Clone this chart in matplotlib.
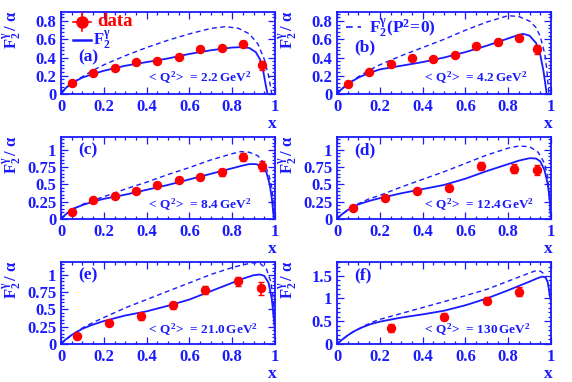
import matplotlib
matplotlib.use("Agg")
import matplotlib.pyplot as plt
from matplotlib.ticker import MultipleLocator

plt.rcParams['font.family'] = ['Liberation Serif', 'DejaVu Serif']
plt.rcParams['font.weight'] = 'bold'
plt.rcParams['mathtext.fontset'] = 'custom'
plt.rcParams['mathtext.rm'] = 'Liberation Serif:bold'
plt.rcParams['mathtext.it'] = 'Liberation Serif:bold'
plt.rcParams['mathtext.bf'] = 'Liberation Serif:bold'

BLUE = '#1a1aff'
RED = '#ff0000'

# ---------------- data ----------------
panel_labels = ['(a)', '(b)', '(c)', '(d)', '(e)', '(f)']
q2_labels = ['2.2', '4.2', '8.4', '12.4', '21.0', '130']
ylims = [0.9, 0.9, 1.18, 1.18, 1.18, 1.8]
ymajor = [0.2, 0.2, 0.25, 0.25, 0.25, 0.5]

# measured points
a_x = [0.05, 0.15, 0.25, 0.35, 0.45, 0.55, 0.65, 0.75, 0.85, 0.94]
a_y = [0.12, 0.23, 0.29, 0.355, 0.367, 0.41, 0.495, 0.506, 0.55, 0.315]
a_e = [0.02, 0.02, 0.02, 0.02, 0.02, 0.02, 0.02, 0.025, 0.035, 0.05]

b_x = [0.05, 0.15, 0.25, 0.35, 0.45, 0.55, 0.65, 0.75, 0.85, 0.935]
b_y = [0.114, 0.246, 0.33, 0.39, 0.385, 0.433, 0.53, 0.572, 0.617, 0.49]
b_e = [0.02, 0.02, 0.02, 0.02, 0.02, 0.02, 0.025, 0.03, 0.035, 0.05]

c_x = [0.05, 0.15, 0.25, 0.35, 0.45, 0.55, 0.65, 0.75, 0.85, 0.94]
c_y = [0.095, 0.27, 0.33, 0.41, 0.49, 0.56, 0.60, 0.67, 0.89, 0.76]
c_e = [0.02, 0.02, 0.02, 0.02, 0.02, 0.025, 0.035, 0.045, 0.06, 0.07]

d_x = [0.075, 0.225, 0.375, 0.525, 0.675, 0.825, 0.935]
d_y = [0.156, 0.30, 0.40, 0.44, 0.76, 0.725, 0.71]
d_e = [0.02, 0.02, 0.03, 0.04, 0.06, 0.06, 0.07]

e_x = [0.075, 0.225, 0.375, 0.525, 0.675, 0.825, 0.935]
e_y = [0.12, 0.30, 0.40, 0.555, 0.78, 0.90, 0.80]
e_e = [0.02, 0.03, 0.05, 0.05, 0.06, 0.07, 0.09]

f_x = [0.25, 0.50, 0.70, 0.85]
f_y = [0.35, 0.60, 0.95, 1.15]
f_e = [0.08, 0.07, 0.08, 0.10]

# model curves (solid: F2 with target virtuality; dashed: P^2=0)
a_sx = [0, 0.02, 0.05, 0.1, 0.15, 0.2, 0.3, 0.4, 0.5, 0.6, 0.7, 0.8, 0.85, 0.88, 0.91, 0.93, 0.945, 0.955, 0.965]
a_sy = [0, 0.06, 0.12, 0.18, 0.22, 0.255, 0.31, 0.35, 0.39, 0.44, 0.48, 0.51, 0.515, 0.505, 0.46, 0.38, 0.25, 0.12, 0.0]
a_dx = [0, 0.02, 0.05, 0.1, 0.15, 0.2, 0.3, 0.4, 0.5, 0.6, 0.7, 0.77, 0.83, 0.88, 0.92, 0.95, 0.97, 0.985]
a_dy = [0, 0.06, 0.12, 0.19, 0.26, 0.32, 0.42, 0.51, 0.59, 0.66, 0.72, 0.74, 0.72, 0.66, 0.55, 0.38, 0.2, 0.0]

b_sx = [0, 0.02, 0.05, 0.1, 0.15, 0.2, 0.3, 0.4, 0.5, 0.6, 0.7, 0.8, 0.85, 0.87, 0.9, 0.93, 0.95, 0.965, 0.98]
b_sy = [0, 0.05, 0.11, 0.18, 0.23, 0.27, 0.31, 0.35, 0.40, 0.46, 0.53, 0.61, 0.65, 0.66, 0.64, 0.56, 0.43, 0.25, 0.0]
b_dx = [0, 0.02, 0.05, 0.1, 0.15, 0.2, 0.3, 0.4, 0.5, 0.6, 0.7, 0.8, 0.85, 0.9, 0.93, 0.95, 0.97, 0.98, 0.99]
b_dy = [0, 0.05, 0.11, 0.19, 0.26, 0.32, 0.42, 0.51, 0.60, 0.70, 0.79, 0.86, 0.85, 0.80, 0.73, 0.63, 0.45, 0.28, 0.0]

c_sx = [0, 0.02, 0.05, 0.1, 0.15, 0.2, 0.3, 0.4, 0.5, 0.6, 0.7, 0.8, 0.85, 0.88, 0.91, 0.94, 0.96, 0.975, 0.985, 0.995]
c_sy = [0, 0.06, 0.14, 0.20, 0.25, 0.29, 0.35, 0.42, 0.49, 0.57, 0.65, 0.73, 0.77, 0.79, 0.79, 0.76, 0.67, 0.5, 0.3, 0.0]
c_dx = [0, 0.02, 0.05, 0.1, 0.15, 0.2, 0.3, 0.4, 0.5, 0.6, 0.7, 0.8, 0.84, 0.88, 0.92, 0.95, 0.97, 0.985, 1.0]
c_dy = [0, 0.06, 0.13, 0.21, 0.27, 0.32, 0.43, 0.53, 0.64, 0.74, 0.85, 0.94, 0.97, 0.96, 0.91, 0.80, 0.65, 0.45, 0.0]

d_sx = [0, 0.02, 0.05, 0.1, 0.15, 0.2, 0.3, 0.4, 0.5, 0.6, 0.7, 0.8, 0.85, 0.9, 0.93, 0.95, 0.97, 0.985, 0.995, 1.0]
d_sy = [0, 0.06, 0.13, 0.21, 0.26, 0.30, 0.37, 0.43, 0.49, 0.58, 0.69, 0.79, 0.84, 0.875, 0.87, 0.83, 0.7, 0.5, 0.25, 0.0]
d_dx = [0, 0.02, 0.05, 0.1, 0.15, 0.2, 0.3, 0.4, 0.5, 0.6, 0.7, 0.8, 0.85, 0.9, 0.94, 0.97, 0.985, 1.0]
d_dy = [0, 0.06, 0.13, 0.22, 0.29, 0.34, 0.46, 0.57, 0.68, 0.80, 0.92, 1.02, 1.05, 1.04, 0.96, 0.8, 0.6, 0.0]

e_sx = [0, 0.02, 0.05, 0.1, 0.15, 0.2, 0.3, 0.4, 0.5, 0.6, 0.7, 0.8, 0.85, 0.9, 0.93, 0.95, 0.97, 0.985, 0.995, 1.0]
e_sy = [0, 0.06, 0.13, 0.22, 0.28, 0.33, 0.41, 0.47, 0.55, 0.64, 0.76, 0.88, 0.94, 0.99, 1.0, 0.98, 0.88, 0.65, 0.35, 0.18]
e_dx = [0, 0.02, 0.05, 0.1, 0.15, 0.2, 0.3, 0.4, 0.5, 0.6, 0.7, 0.8, 0.85, 0.9, 0.93, 0.96, 0.98, 0.99, 1.0]
e_dy = [0, 0.06, 0.13, 0.23, 0.31, 0.38, 0.52, 0.64, 0.76, 0.88, 1.00, 1.10, 1.14, 1.17, 1.16, 1.08, 0.9, 0.7, 0.3]

f_sx = [0, 0.02, 0.05, 0.08, 0.12, 0.16, 0.2, 0.3, 0.4, 0.5, 0.6, 0.7, 0.8, 0.9, 0.94, 0.96, 0.975, 0.985, 0.995, 1.0]
f_sy = [0, 0.08, 0.19, 0.28, 0.37, 0.44, 0.49, 0.58, 0.65, 0.73, 0.85, 1.0, 1.18, 1.37, 1.45, 1.48, 1.46, 1.35, 1.05, 0.93]
f_dx = [0, 0.02, 0.05, 0.08, 0.12, 0.16, 0.2, 0.3, 0.4, 0.5, 0.6, 0.7, 0.8, 0.9, 0.93, 0.95, 0.965, 0.975]
f_dy = [0, 0.08, 0.19, 0.28, 0.38, 0.47, 0.54, 0.67, 0.80, 0.93, 1.06, 1.20, 1.38, 1.56, 1.61, 1.60, 1.55, 1.50]

points = [(a_x, a_y, a_e), (b_x, b_y, b_e), (c_x, c_y, c_e),
          (d_x, d_y, d_e), (e_x, e_y, e_e), (f_x, f_y, f_e)]
solids = [(a_sx, a_sy), (b_sx, b_sy), (c_sx, c_sy), (d_sx, d_sy), (e_sx, e_sy), (f_sx, f_sy)]
dashes = [(a_dx, a_dy), (b_dx, b_dy), (c_dx, c_dy), (d_dx, d_dy), (e_dx, e_dy), (f_dx, f_dy)]

# ---------------- layout ----------------
W, H = 572, 382
fig = plt.figure(figsize=(W / 100, H / 100), dpi=100)

lefts = [61, 337]
tops = [12, 137, 262]
aw, ah = 214, 82

def fx(px):
    return px / W

def fy(py):
    return 1 - py / H

ylabel = r'$\mathrm{F}_{2}^{\gamma}\,/\;\alpha$'
fmt = plt.FuncFormatter(lambda v, p: ('%g' % round(v, 2)))

for i in range(6):
    r, c = divmod(i, 2)
    L, T = lefts[c], tops[r]
    ax = fig.add_axes([fx(L), fy(T + ah), aw / W, ah / H])
    px, py, pe = points[i]
    sx, sy = solids[i]
    dx, dy = dashes[i]
    ax.plot(dx, dy, color=BLUE, lw=1.0, ls=(0, (3.5, 2.5)))
    ax.plot(sx, sy, color=BLUE, lw=1.3)
    ax.errorbar(px, py, yerr=pe, fmt='o', color=RED, ms=5.8, elinewidth=1.2,
                capsize=2, capthick=1.0, zorder=5)
    ax.set_xlim(0, 1)
    ax.set_ylim(0, ylims[i])
    ax.xaxis.set_major_locator(MultipleLocator(0.2))
    ax.xaxis.set_minor_locator(MultipleLocator(0.05))
    ax.yaxis.set_major_locator(MultipleLocator(ymajor[i]))
    ax.yaxis.set_minor_locator(MultipleLocator(ymajor[i] / 5))
    ax.tick_params(which='both', direction='in', top=True, right=True,
                   colors=BLUE, labelcolor=BLUE, labelsize=12, width=0.9)
    ax.tick_params(which='major', length=5)
    ax.tick_params(which='minor', length=2.5)
    for s in ax.spines.values():
        s.set_color(BLUE)
        s.set_linewidth(1.3)
    ax.xaxis.set_major_formatter(fmt)
    ax.yaxis.set_major_formatter(fmt)
    for lab in ax.get_xticklabels() + ax.get_yticklabels():
        lab.set_fontweight('bold')
    # y label at top
    fig.text(fx(L - 49), fy(T - 1), ylabel, rotation=90, ha='center', va='top',
             color=BLUE, fontsize=12)
    # x label
    fig.text(fx(L + aw - 3), fy(T + ah + 30), 'x', ha='center', va='center',
             color=BLUE, fontsize=12.5, fontweight='bold')
    # panel label
    ylab_y = T + 45 if i == 0 else (T + 35 if i == 1 else T + 13)
    fig.text(fx(L + 17), fy(ylab_y), panel_labels[i], ha='left', va='center',
             color=BLUE, fontsize=12.5, fontweight='bold')
    # Q2 text
    fig.text(fx(L + 85), fy(T + 66 if i in (0, 1) else T + 68),
             r'$<\,\mathrm{Q}^{2}\!>\,=\,$' + q2_labels[i] + r'$\,\mathrm{GeV}^{2}$',
             ha='left', va='center', color=BLUE, fontsize=9.5)

# legends
fig.text(fx(97), fy(22), 'data', color=RED, fontsize=13.5, fontweight='bold',
         ha='left', va='center')
fig.lines.append(plt.Line2D([fx(73), fx(91)], [fy(22), fy(22)], color=RED, lw=1.2,
                            transform=fig.transFigure))
fig.lines.append(plt.Line2D([fx(82), fx(82)], [fy(13), fy(31)], color=RED, lw=1.2,
                            transform=fig.transFigure))
fig.lines.append(plt.Line2D([fx(82)], [fy(22)], color=RED, marker='o', ms=8,
                            transform=fig.transFigure))
fig.lines.append(plt.Line2D([fx(73), fx(91)], [fy(40), fy(40)], color=BLUE, lw=1.8,
                            transform=fig.transFigure))
fig.text(fx(93), fy(40), r'$\mathrm{F}_{2}^{\gamma}$', color=BLUE, fontsize=12,
         ha='left', va='center')
fig.lines.append(plt.Line2D([fx(346), fx(361)], [fy(27), fy(27)], color=BLUE, lw=1.2,
                            ls=(0, (4, 3)), transform=fig.transFigure))
fig.text(fx(369), fy(28), r'$\mathrm{F}_{2}^{\gamma}(\mathrm{P}^{2}\!=\!0)$', color=BLUE,
         fontsize=12.5, ha='left', va='center')

fig.savefig('out.png', dpi=100)
